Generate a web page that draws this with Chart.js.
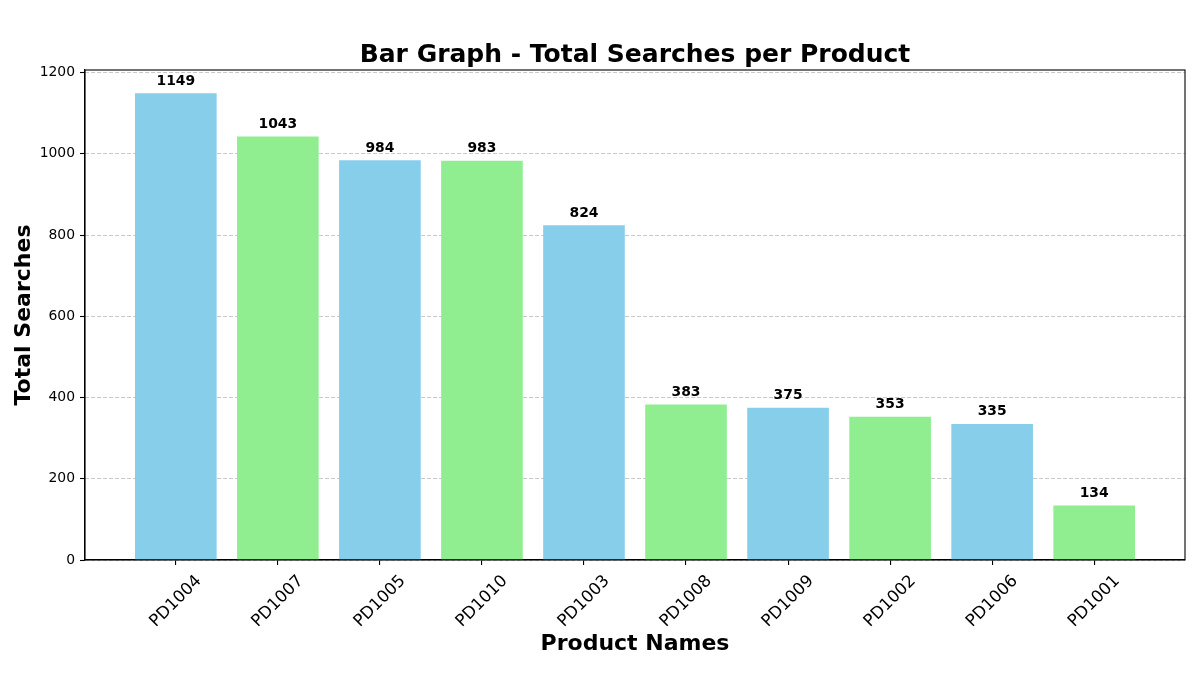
<!DOCTYPE html>
<html lang="en">
<head>
    <meta charset="UTF-8">
    <title>Bar Graph - Total Searches per Product</title>
    <script src="https://cdn.jsdelivr.net/npm/chart.js"></script>
    <style>
        body { margin: 0; background: white; }
        canvas { display: block; }
    </style>
</head>
<body>
<canvas id="searchChart" width="1200" height="700"></canvas>

<script>
    // Chart data
    const products = ['PD1004', 'PD1007', 'PD1005', 'PD1010', 'PD1003', 'PD1008', 'PD1009', 'PD1002', 'PD1006', 'PD1001'];
    const searches = [1149, 1043, 984, 983, 824, 383, 375, 353, 335, 134];
    const barColors = ['#87CEEB', '#90EE90'];
    const yTicks = [0, 200, 400, 600, 800, 1000, 1200];

    const FONT = "'DejaVu Sans', sans-serif";

    // Title, axis titles, rotated x labels, value labels and the box
    const decorations = {
        id: 'decorations',
        afterDatasetsDraw(chart) {
            const ctx = chart.ctx;
            const area = chart.chartArea;
            const xScale = chart.scales.x;
            ctx.save();
            ctx.setLineDash([]);
            ctx.fillStyle = '#000';

            // values above bars
            ctx.font = 'bold 13.9px ' + FONT;
            ctx.textAlign = 'center';
            ctx.textBaseline = 'alphabetic';
            chart.getDatasetMeta(0).data.forEach((bar, i) => {
                ctx.fillText(String(searches[i]), bar.x, bar.y - 8.5);
            });

            // rotated x tick labels, centred like matplotlib rotation=45
            ctx.font = '16.67px ' + FONT;
            products.forEach((name, i) => {
                const w = ctx.measureText(name).width;
                const h = 16.67 * 1.17;
                const half = (w + h) * Math.SQRT1_2 / 2;
                const cx = xScale.getPixelForValue(i);
                const cy = area.bottom + 11.5 + half;
                ctx.save();
                ctx.translate(cx, cy);
                ctx.rotate(-Math.PI / 4);
                ctx.textAlign = 'center';
                ctx.textBaseline = 'middle';
                ctx.fillText(name, 0, 0);
                ctx.restore();
            });

            // title
            ctx.font = 'bold 25px ' + FONT;
            ctx.textAlign = 'center';
            ctx.textBaseline = 'middle';
            ctx.fillText('Bar Graph - Total Searches per Product', (area.left + area.right) / 2, 55);

            // axis titles
            ctx.font = 'bold 22px ' + FONT;
            ctx.fillText('Product Names', (area.left + area.right) / 2, 644);
            ctx.save();
            ctx.translate(24, (area.top + area.bottom) / 2);
            ctx.rotate(-Math.PI / 2);
            ctx.fillText('Total Searches', 0, 0);
            ctx.restore();

            // frame
            ctx.strokeStyle = '#000';
            ctx.lineWidth = 1.1;
            ctx.strokeRect(area.left, area.top, area.right - area.left, area.bottom - area.top);
            ctx.restore();
        }
    };

    new Chart(document.getElementById('searchChart'), {
        type: 'bar',
        data: {
            datasets: [{
                data: products.map((p, i) => ({ x: i, y: searches[i] })),
                backgroundColor: products.map((p, i) => barColors[i % 2]),
                categoryPercentage: 1.0,
                barPercentage: 0.8
            }]
        },
        options: {
            responsive: false,
            animation: false,
            layout: { padding: { top: 70, right: 15, left: 0, bottom: 0 } },
            plugins: {
                legend: { display: false },
                tooltip: { enabled: false }
            },
            scales: {
                x: {
                    type: 'linear',
                    offset: false,
                    min: -0.89,
                    max: 9.89,
                    afterBuildTicks: (axis) => { axis.ticks = products.map((p, i) => ({ value: i })); },
                    afterFit: (axis) => { axis.height = 140; },
                    ticks: { display: false },
                    grid: {
                        offset: false,
                        drawOnChartArea: false,
                        drawTicks: true,
                        tickLength: 5,
                        tickColor: '#000',
                        lineWidth: 1.1
                    },
                    border: { color: '#000', width: 1.1 }
                },
                y: {
                    min: 0,
                    max: 1206.45,
                    afterBuildTicks: (axis) => { axis.ticks = yTicks.map(v => ({ value: v })); },
                    afterFit: (axis) => { axis.width = 85; },
                    ticks: {
                        color: '#000',
                        padding: 5,
                        font: { family: FONT, size: 13.9 },
                        callback: (v) => String(v)
                    },
                    grid: {
                        color: 'rgba(176,176,176,0.7)',
                        lineWidth: 1,
                        tickLength: 5,
                        tickColor: '#000',
                        tickBorderDash: [],
                        tickWidth: 1.1
                    },
                    border: { color: '#000', width: 1.1, dash: [4, 2] }
                }
            }
        },
        plugins: [decorations]
    });
</script>
</body>
</html>
